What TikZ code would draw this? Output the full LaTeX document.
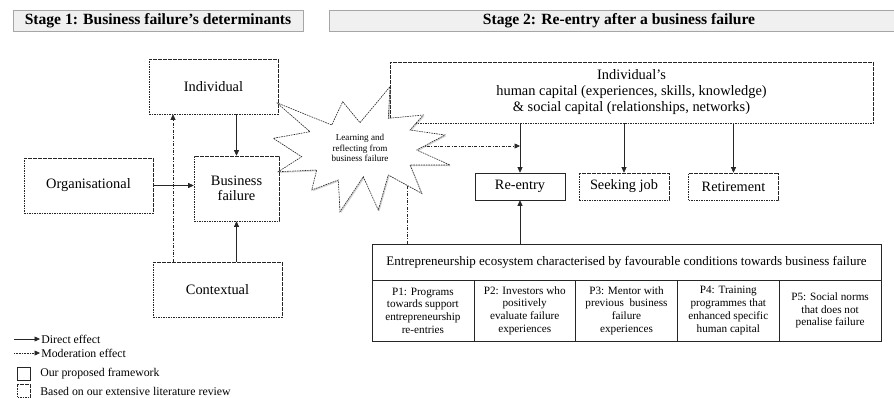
\documentclass[tikz,border=0pt]{standalone}
\usepackage{fontspec}
\setmainfont{Liberation Serif}
\usetikzlibrary{arrows.meta,shadows}

\begin{document}
\begin{tikzpicture}
[x=1pt, y=-1pt, line width=.6pt, black!85,
 every node/.style={align=center, inner sep=1pt, text=black},
 stagehead/.style={draw=gray!70, fill=gray!12, minimum height=21pt, font=\fontsize{15.6}{17}\selectfont\bfseries},
 litbox/.style={draw, dash pattern=on 1.6pt off .9pt, minimum width=129pt, minimum height=55pt, font=\fontsize{14.4}{15}\selectfont},
 ourbox/.style={draw, solid},
 outcome/.style={minimum width=90pt, minimum height=27pt, font=\fontsize{14.3}{15}\selectfont},
 cell/.style={ourbox, minimum width=101.8pt, minimum height=61pt, font=\fontsize{11.2}{12.7}\selectfont},
 direct/.style={-{Triangle[length=5.5pt,width=5pt]}},
 moder/.style={-{Triangle[length=5.5pt,width=5pt]}, dash pattern=on 3pt off 1.5pt on .8pt off 1.5pt},
 legtext/.style={anchor=west, font=\fontsize{11.8}{13}\selectfont}]
\useasboundingbox (0,0) rectangle (894,397);

% headers
\node[stagehead, minimum width=290pt] (head1) at (158,21) {Stage 1: Business failure’s determinants};
\node[stagehead, minimum width=580pt] (head2) at (619,20.5) {Stage 2: Re-entry after a business failure};

% stage 1
\node[litbox] (indiv) at (213.5,86.5) {Individual};
\node[litbox, minimum width=85pt, minimum height=65pt] (bfail) at (236.5,188.5) {Business\\failure};
\node[litbox] (org) at (88.5,185.5) {Organisational};
\node[litbox] (ctx) at (217.5,289.5) {Contextual};
\coordinate (modx) at (173,0);

\draw[direct] (bfail.north |- indiv.south) -- (bfail.north);
\draw[direct] (org.east) -- (org.east -| bfail.west);
\draw[direct] (bfail.south |- ctx.north) -- (bfail.south);
\draw[moder] (ctx.north -| modx) -- (indiv.south -| modx);

% stage 2
\node[litbox, minimum width=483pt, minimum height=61pt, font=\fontsize{14.4}{16}\selectfont] (cap) at (631.5,92.5)
  {Individual’s\\human capital (experiences, skills, knowledge)\\\& social capital (relationships, networks)};
\node[ourbox, outcome] (reentry) at (520,186.5) {Re-entry};
\node[litbox, outcome] (seek) at (624,186.5) {Seeking job};
\node[litbox, outcome] (retire) at (733.5,186.5) {Retirement};

\node[ourbox, minimum width=509pt, minimum height=36pt, font=\fontsize{13}{15}\selectfont] (eco) at (626.5,262)
  {Entrepreneurship ecosystem characterised by favourable conditions towards business failure};
\foreach \txt [count=\i] in {{P1: Programs\\towards support\\entrepreneurship\\re-entries},
  {P2: Investors who\\positively\\evaluate failure\\experiences},
  {P3: Mentor with\\previous\ \ business\\failure\\experiences},
  {P4: Training\\programmes that\\enhanced specific\\human capital},
  {P5: Social norms\\that does not\\penalise failure}}
  \node[cell] (p\i) at ({372+101.8*(\i-0.5)},310.5) {\txt};

\foreach \to in {reentry,seek,retire}
  \draw[direct] (cap.south -| \to.north) -- (\to.north);
\draw[direct] (reentry.south |- eco.north) -- (reentry.south);

\coordinate (learnR) at (420,146);
\coordinate (learnB) at (407,180);
\draw[moder] (learnR) -- (learnR -| reentry.north);
\draw[dash pattern=on 3pt off 1.5pt on .8pt off 1.5pt] (eco.north -| learnB) -- (learnB);

% learning star
\draw[dash pattern=on 1.6pt off .9pt, fill=white, drop shadow={shadow xshift=1.2pt, shadow yshift=-1.2pt, opacity=.35}]
  (276.7,102.7) -- (331.7,125) -- (342.7,101.7) -- (360,122.7) -- (390,86.7) -- (388.3,118.3)
  -- (423.3,115) -- (410,130) -- (445,135) -- (416.7,150) -- (450,165) -- (410,165)
  -- (421.7,193.3) -- (388.3,175) -- (378.3,210) -- (363.3,176.7) -- (340,211.7) -- (338.3,180)
  -- (311.7,190) -- (316.7,170) -- (278.3,171.7) -- (301.7,156.7) -- (273.3,138.3) -- (310,131.7) -- cycle;
\node[font=\fontsize{9.1}{10.5}\selectfont] (learn) at (360,148) {Learning and\\reflecting from\\business failure};

% legend
\node[legtext] (legd) at (40,339) {Direct effect};
\node[legtext] (legm) at (40,353) {Moderation effect};
\coordinate (legd0) at (14,339);
\coordinate (legm0) at (14,353);
\draw[direct] (legd0) -- (legd.west);
\draw[-{Triangle[length=5.5pt,width=5pt]}, dash pattern=on .8pt off .8pt] (legm0) -- (legm.west);
\node[ourbox, minimum size=13pt, inner sep=0pt] (legour) at (24,373.5) {};
\node[draw, dash pattern=on 1.6pt off .9pt, minimum size=13pt, inner sep=0pt] (leglit) at (24,391) {};
\node[legtext] (legourt) at (39,373.5) {Our proposed framework};
\node[legtext] (leglitt) at (39,391) {Based on our extensive literature review};
\end{tikzpicture}
\end{document}
